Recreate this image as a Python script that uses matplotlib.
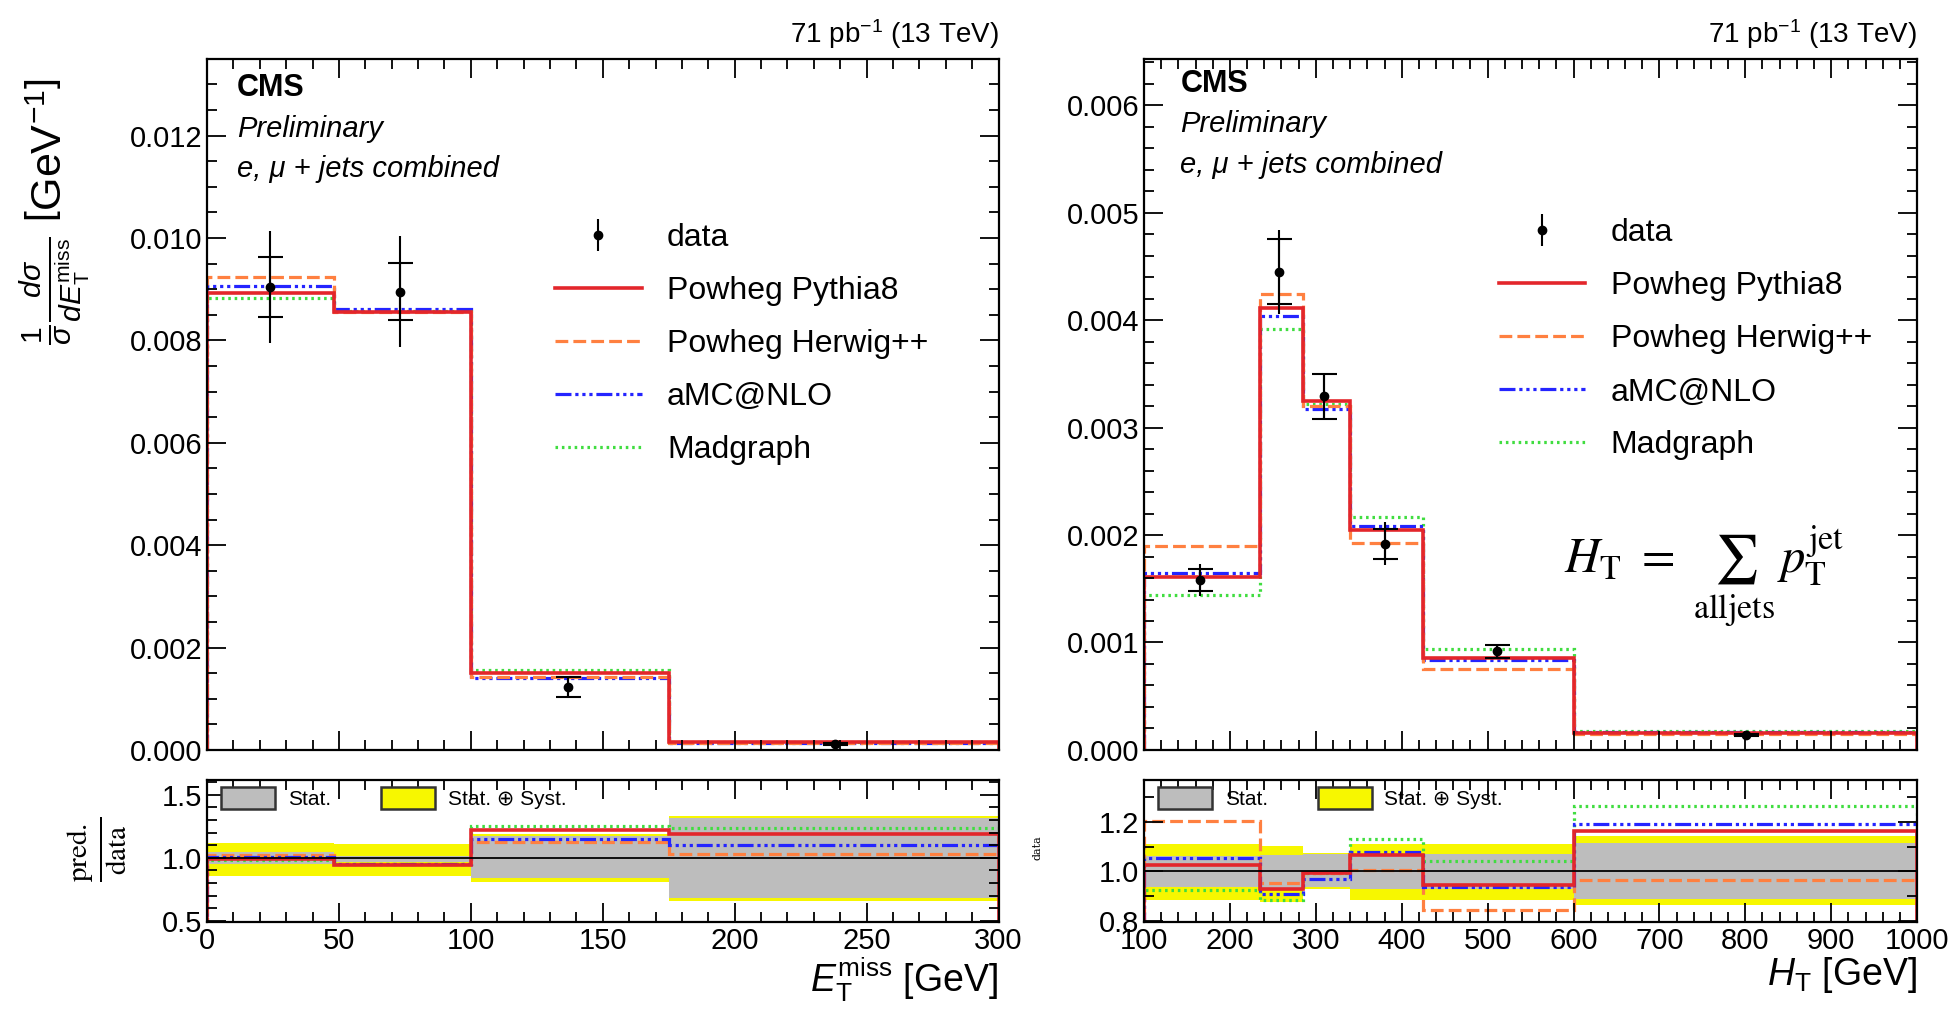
import matplotlib
matplotlib.use("Agg")
import matplotlib.pyplot as plt
import numpy as np
from matplotlib.lines import Line2D
from matplotlib.patches import Patch
from matplotlib.ticker import MultipleLocator, FormatStrFormatter

plt.rcParams["font.family"] = ["Liberation Sans", "DejaVu Sans"]
plt.rcParams["mathtext.fontset"] = "custom"
plt.rcParams["mathtext.rm"] = "Liberation Sans"
plt.rcParams["mathtext.it"] = "Liberation Sans:italic"
plt.rcParams["mathtext.bf"] = "Liberation Sans:bold"
plt.rcParams["mathtext.sf"] = "Liberation Sans"

# ---- MET distribution ----
met_edges = [0, 48, 100, 175, 300]
met_data_x = [24, 73, 137, 238]
met_data = [0.00904, 0.00895, 0.00123, 0.00012]
met_stat = [0.00058, 0.00056, 0.00019, 0.00002]
met_tot = [0.00110, 0.00108, 0.00019, 0.00002]
met_pythia = [0.00892, 0.00856, 0.00151, 0.000153]
met_herwig = [0.00923, 0.00855, 0.00143, 0.00013]
met_amc = [0.00906, 0.00862, 0.00141, 0.000135]
met_madgraph = [0.00882, 0.00858, 0.00157, 0.00016]

met_r_pythia = [0.987, 0.946, 1.223, 1.19]
met_r_herwig = [1.02, 0.952, 1.126, 1.03]
met_r_amc = [1.005, 0.950, 1.153, 1.10]
met_r_madgraph = [0.985, 0.950, 1.255, 1.234]
met_stat_lo = [0.954, 0.965, 0.839, 0.677]
met_stat_hi = [1.046, 1.013, 1.175, 1.315]
met_syst_lo = [0.857, 0.857, 0.804, 0.660]
met_syst_hi = [1.121, 1.107, 1.188, 1.330]

# ---- HT distribution ----
ht_edges = [100, 235, 285, 340, 425, 600, 1000]
ht_data_x = [165, 257, 309, 380, 511, 801]
ht_data = [0.00158, 0.00445, 0.00329, 0.00192, 0.00092, 0.00014]
ht_stat = [0.000105, 0.00030, 0.00021, 0.00014, 0.00006, 0.00001]
ht_tot = [0.00015, 0.00039, 0.00021, 0.00020, 0.00006, 0.00001]
ht_pythia = [0.00161, 0.00411, 0.00325, 0.00205, 0.00086, 0.000157]
ht_herwig = [0.00190, 0.00424, 0.00320, 0.00193, 0.00075, 0.00015]
ht_amc = [0.00165, 0.00404, 0.00317, 0.00208, 0.00084, 0.000165]
ht_madgraph = [0.00144, 0.00392, 0.00322, 0.00217, 0.00094, 0.00018]

ht_r_pythia = [1.027, 0.929, 0.992, 1.065, 0.943, 1.163]
ht_r_herwig = [1.203, 0.952, 0.995, 1.005, 0.843, 0.965]
ht_r_amc = [1.052, 0.909, 0.969, 1.076, 0.936, 1.19]
ht_r_madgraph = [0.923, 0.883, 0.992, 1.13, 1.04, 1.263]
ht_stat_lo = [0.936, 0.93, 0.935, 0.93, 0.93, 0.889]
ht_stat_hi = [1.063, 1.065, 1.07, 1.065, 1.07, 1.116]
ht_syst_lo = [0.883, 0.876, 0.93, 0.883, 0.883, 0.863]
ht_syst_hi = [1.109, 1.103, 1.075, 1.109, 1.109, 1.143]

C_RED = "#e3262b"
C_ORANGE = "#ff8040"
C_BLUE = "#2424ff"
C_GREEN = "#40dd40"
LS_ORANGE = (0, (4, 1.6))
LS_BLUE = (0, (5, 1.2, 1, 1.2, 1, 1.2, 1, 1.2))
LS_GREEN = (0, (0.8, 1.2))
LW = 2.3

fig = plt.figure(figsize=(19.58, 10.09), dpi=100)
axL = fig.add_axes([0.1057, 0.2567, 0.4043, 0.685])
axLr = fig.add_axes([0.1057, 0.0862, 0.4043, 0.141])
axR = fig.add_axes([0.5843, 0.2567, 0.3948, 0.685])
axRr = fig.add_axes([0.5843, 0.0862, 0.3948, 0.141])


def style_axes(ax, xmaj, xmin, ymaj, ymin):
    ax.xaxis.set_major_locator(MultipleLocator(xmaj))
    ax.xaxis.set_minor_locator(MultipleLocator(xmin))
    ax.yaxis.set_major_locator(MultipleLocator(ymaj))
    ax.yaxis.set_minor_locator(MultipleLocator(ymin))
    ax.tick_params(which="both", direction="in", top=True, right=True,
                   labelsize=21, width=1.3)
    ax.tick_params(which="major", length=14)
    ax.tick_params(which="minor", length=7)
    for s in ax.spines.values():
        s.set_linewidth(1.6)


def draw_main(ax, edges, xs, data, stat, tot, pyth, herw, amc, madg):
    ax.stairs(madg, edges, color=C_GREEN, lw=LW, linestyle=LS_GREEN)
    ax.stairs(amc, edges, color=C_BLUE, lw=LW, linestyle=LS_BLUE)
    ax.stairs(herw, edges, color=C_ORANGE, lw=LW, linestyle=LS_ORANGE)
    ax.stairs(pyth, edges, color=C_RED, lw=2.6)
    eb = ax.errorbar(xs, data, yerr=tot, fmt="o", color="k", ms=6,
                     capsize=0, elinewidth=1.5, zorder=5)
    ax.errorbar(xs, data, yerr=stat, fmt="none", ecolor="k", capsize=9,
                elinewidth=1.5, capthick=1.5, zorder=5)
    return eb


def draw_ratio(ax, edges, slo, shi, ylo, yhi, pyth, herw, amc, madg):
    ax.stairs(yhi, edges, baseline=ylo, fill=True, color="#f7f700", lw=0)
    ax.stairs(shi, edges, baseline=slo, fill=True, color="#bdbdbd", lw=0)
    ax.axhline(1.0, color="k", lw=1.3)
    ax.stairs(madg, edges, color=C_GREEN, lw=LW, linestyle=LS_GREEN)
    ax.stairs(herw, edges, color=C_ORANGE, lw=LW, linestyle=LS_ORANGE)
    ax.stairs(amc, edges, color=C_BLUE, lw=LW, linestyle=LS_BLUE)
    ax.stairs(pyth, edges, color=C_RED, lw=2.6, baseline=0)
    handles = [Patch(facecolor="#bdbdbd", edgecolor="#333333", lw=1.8),
               Patch(facecolor="#f7f700", edgecolor="#333333", lw=1.8)]
    ax.legend(handles, ["Stat.", "Stat. \u2295 Syst."], loc="upper left",
              bbox_to_anchor=(0.018, 0.95), ncol=2, frameon=False,
              fontsize=15, handlelength=2.6, handleheight=1.25,
              handletextpad=0.6, columnspacing=2.4, borderpad=0,
              borderaxespad=0)


def add_labels(ax, xt, yc):
    ax.text(xt, yc, "CMS", transform=ax.transAxes, fontsize=22,
            fontweight="bold", va="center")
    ax.text(xt, yc - 0.059, "Preliminary", transform=ax.transAxes,
            fontsize=21, style="italic", va="center")
    ax.text(xt, yc - 0.117, "e, \u03bc + jets combined", transform=ax.transAxes,
            fontsize=21, style="italic", va="center")
    ax.text(1.0, 1.012, r"71 pb$^{-1}$ (13 TeV)", transform=ax.transAxes,
            fontsize=20, ha="right", va="bottom")


def add_legend(ax, eb, x0, y0):
    handles = [
        eb,
        Line2D([], [], color=C_RED, lw=2.6),
        Line2D([], [], color=C_ORANGE, lw=LW, linestyle=LS_ORANGE),
        Line2D([], [], color=C_BLUE, lw=LW, linestyle=LS_BLUE),
        Line2D([], [], color=C_GREEN, lw=LW, linestyle=LS_GREEN),
    ]
    labels = ["data", "Powheg Pythia8", "Powheg Herwig++", "aMC@NLO", "Madgraph"]
    ax.legend(handles, labels, loc="upper left", bbox_to_anchor=(x0, y0),
              frameon=False, fontsize=23, handlelength=2.7,
              handletextpad=0.8, labelspacing=0.72, borderpad=0,
              borderaxespad=0)


# left: MET
ebL = draw_main(axL, met_edges, met_data_x, met_data, met_stat, met_tot,
                met_pythia, met_herwig, met_amc, met_madgraph)
style_axes(axL, 50, 10, 0.002, 0.0005)
axL.set_xlim(0, 300)
axL.set_ylim(0, 0.0135)
axL.yaxis.set_major_formatter(FormatStrFormatter("%.3f"))
axL.tick_params(labelbottom=False)
add_labels(axL, 0.038, 0.958)
add_legend(axL, ebL, 0.44, 0.762)

draw_ratio(axLr, met_edges, met_stat_lo, met_stat_hi, met_syst_lo, met_syst_hi,
           met_r_pythia, met_r_herwig, met_r_amc, met_r_madgraph)
style_axes(axLr, 50, 10, 0.5, 0.1)
axLr.set_xlim(0, 300)
axLr.set_ylim(0.49, 1.62)
axLr.yaxis.set_major_formatter(FormatStrFormatter("%.1f"))
axLr.set_xlabel(r"$E_{\mathrm{T}}^{\mathrm{miss}}$ [GeV]", fontsize=27,
                loc="right", labelpad=0)

# right: HT
ebR = draw_main(axR, ht_edges, ht_data_x, ht_data, ht_stat, ht_tot,
                ht_pythia, ht_herwig, ht_amc, ht_madgraph)
style_axes(axR, 100, 20, 0.001, 0.0002)
axR.set_xlim(100, 1000)
axR.set_ylim(0, 0.00643)
axR.yaxis.set_major_formatter(FormatStrFormatter("%.3f"))
axR.tick_params(labelbottom=False)
add_labels(axR, 0.047, 0.964)
add_legend(axR, ebR, 0.459, 0.769)
axR.text(0.725, 0.25,
         r"$H_{\mathrm{T}}\ =\ \sum_{\mathrm{alljets}}\, p_{\mathrm{T}}^{\mathrm{jet}}$",
         transform=axR.transAxes, fontsize=35, ha="center", va="center",
         math_fontfamily="stix")

draw_ratio(axRr, ht_edges, ht_stat_lo, ht_stat_hi, ht_syst_lo, ht_syst_hi,
           ht_r_pythia, ht_r_herwig, ht_r_amc, ht_r_madgraph)
style_axes(axRr, 100, 20, 0.2, 0.1)
axRr.set_xlim(100, 1000)
axRr.set_ylim(0.795, 1.37)
axRr.yaxis.set_major_formatter(FormatStrFormatter("%.1f"))
axRr.set_xlabel(r"$H_{\mathrm{T}}$ [GeV]", fontsize=27, loc="right",
                labelpad=0)

# y-axis titles
fig.text(0.0286, 0.79,
         r"$\frac{1}{\sigma}\frac{d\sigma}{dE_{\mathrm{T}}^{\mathrm{miss}}}$ $\left[\mathrm{GeV}^{-1}\right]$",
         rotation=90, fontsize=31, ha="center", va="center")
fig.text(0.0496, 0.158, r"$\frac{\mathrm{pred.}}{\mathrm{data}}$",
         rotation=90, fontsize=30, ha="center", va="center",
         math_fontfamily="stix")
fig.text(0.530, 0.16, "data", rotation=90, fontsize=8, ha="center",
         va="center", family="serif")

fig.savefig("out.png", dpi=100)
